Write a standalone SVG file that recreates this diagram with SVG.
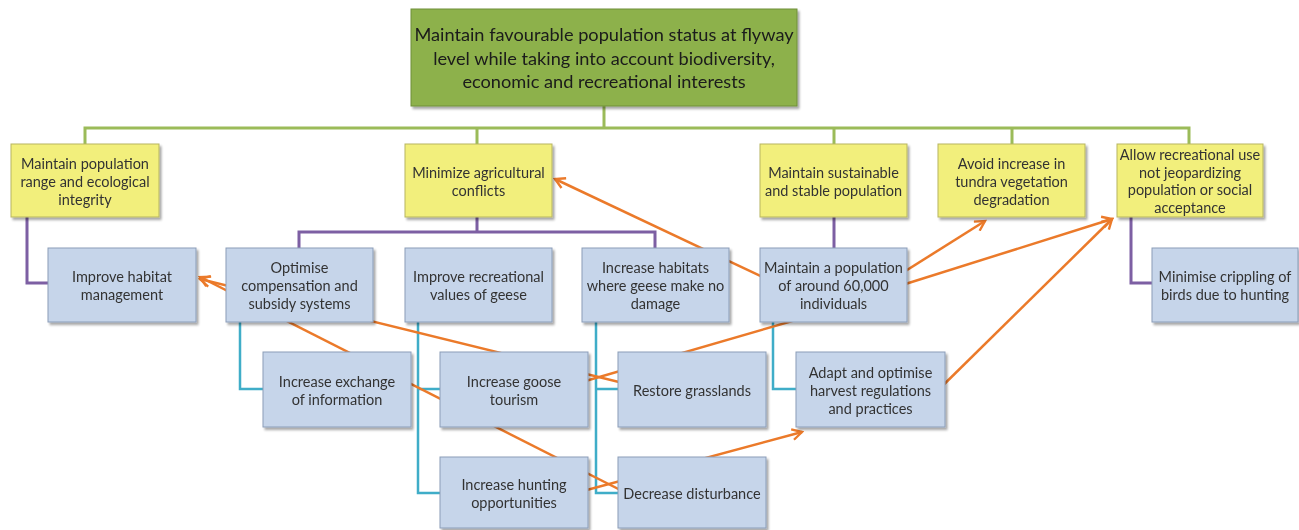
<svg xmlns="http://www.w3.org/2000/svg" width="1299" height="530" viewBox="0 0 1299 530">
<style>
.t{font-family:Lato,"Liberation Sans",sans-serif;font-size:14.5px;fill:#333;text-anchor:middle;dominant-baseline:central}
.tt{font-family:Lato,"Liberation Sans",sans-serif;font-size:18.2px;fill:#1a1a1a;text-anchor:middle;dominant-baseline:central}
.g{fill:#8DB14C;stroke:#6F8F3A;stroke-width:1}
.y{fill:#F2EF7C;stroke:#B7B560;stroke-width:1}
.b{fill:#C6D5EA;stroke:#8B9DB8;stroke-width:1}
.cg{fill:none;stroke:#9BBB59;stroke-width:3}
.cp{fill:none;stroke:#7D5FA3;stroke-width:3}
.ct{fill:none;stroke:#3FADC8;stroke-width:2.5}
.co{fill:none;stroke:#EB7A2A;stroke-width:2.5;marker-end:url(#ah)}
.cn{fill:none;stroke:#EB7A2A;stroke-width:2.5}
</style>
<defs>
<filter id="sh" x="-10%" y="-10%" width="130%" height="140%"><feDropShadow dx="2" dy="2.5" stdDeviation="1.2" flood-color="#000" flood-opacity="0.35"/></filter>
<marker id="ah" viewBox="0 0 12 12" refX="10" refY="6" markerWidth="13" markerHeight="13" markerUnits="userSpaceOnUse" orient="auto"><path d="M1,1 L10,6 L1,11" fill="none" stroke="#EB7A2A" stroke-width="2.2"/></marker>
</defs>
<rect width="1299" height="530" fill="#fff"/>
<g id="connectors">
<path class="cg" d="M604,106 V128 M85,144 V128 H1189 V144 M477,128 V144 M834,128 V144 M1012,128 V144"/>
<path class="cp" d="M27,217 V283 H48"/>
<path class="cp" d="M477,217 V232 M299,248 V232 H655 V248"/>
<path class="cp" d="M834,217 V248"/>
<path class="cp" d="M1131,217 V283 H1153"/>
<path class="ct" d="M240,322 V389 H263"/>
<path class="ct" d="M418,322 V493 H440 M418,389 H440"/>
<path class="ct" d="M596,322 V493 H618 M596,389 H618"/>
<path class="ct" d="M773,322 V389 H796"/>
<path class="co" d="M790,290 L555,179"/>
<path class="co" d="M650,505 L200,277"/>
<path class="co" d="M680,397 L200,279"/>
<path class="cn" d="M520,400 L820,313"/>
<path class="co" d="M520,508 L802,432"/>
<path class="co" d="M880,287 L985,221"/>
<path class="co" d="M880,292 L1112,219"/>
<path class="co" d="M920,408 L1112,219"/>
</g>
<g id="goal" filter="url(#sh)"><rect class="g" x="411" y="9" width="386" height="97"/>
<text class="tt"><tspan x="604" y="34">Maintain favourable population status at flyway</tspan><tspan x="604" y="57.5">level while taking into account biodiversity,</tspan><tspan x="604" y="81">economic and recreational interests</tspan></text></g>
<g id="obj1" filter="url(#sh)"><rect class="y" x="11" y="144" width="148" height="73"/>
<text class="t"><tspan x="85" y="162.5">Maintain population</tspan><tspan x="85" y="180.5">range and ecological</tspan><tspan x="85" y="198.5">integrity</tspan></text></g>
<g id="obj2" filter="url(#sh)"><rect class="y" x="405" y="144" width="147" height="73"/>
<text class="t"><tspan x="478.5" y="171.5">Minimize agricultural</tspan><tspan x="478.5" y="189.5">conflicts</tspan></text></g>
<g id="obj3" filter="url(#sh)"><rect class="y" x="760" y="144" width="147" height="73"/>
<text class="t"><tspan x="833.5" y="171.5">Maintain sustainable</tspan><tspan x="833.5" y="189.5">and stable population</tspan></text></g>
<g id="obj4" filter="url(#sh)"><rect class="y" x="938" y="144" width="147" height="73"/>
<text class="t"><tspan x="1011.5" y="162.5">Avoid increase in</tspan><tspan x="1011.5" y="180.5">tundra vegetation</tspan><tspan x="1011.5" y="198.5">degradation</tspan></text></g>
<g id="obj5" filter="url(#sh)"><rect class="y" x="1117" y="144" width="146" height="73"/>
<text class="t"><tspan x="1190" y="154.25">Allow recreational use</tspan><tspan x="1190" y="171.75">not jeopardizing</tspan><tspan x="1190" y="189.25">population or social</tspan><tspan x="1190" y="206.75">acceptance</tspan></text></g>
<g id="habitat" filter="url(#sh)"><rect class="b" x="48" y="248" width="148" height="74"/>
<text class="t"><tspan x="122" y="276">Improve habitat</tspan><tspan x="122" y="294">management</tspan></text></g>
<g id="optimise" filter="url(#sh)"><rect class="b" x="226" y="248" width="147" height="74"/>
<text class="t"><tspan x="299.5" y="267">Optimise</tspan><tspan x="299.5" y="285">compensation and</tspan><tspan x="299.5" y="303">subsidy systems</tspan></text></g>
<g id="recreational" filter="url(#sh)"><rect class="b" x="405" y="248" width="147" height="74"/>
<text class="t"><tspan x="478.5" y="276">Improve recreational</tspan><tspan x="478.5" y="294">values of geese</tspan></text></g>
<g id="habitats" filter="url(#sh)"><rect class="b" x="582" y="248" width="147" height="74"/>
<text class="t"><tspan x="655.5" y="267">Increase habitats</tspan><tspan x="655.5" y="285">where geese make no</tspan><tspan x="655.5" y="303">damage</tspan></text></g>
<g id="population" filter="url(#sh)"><rect class="b" x="760" y="248" width="147" height="74"/>
<text class="t"><tspan x="833.5" y="267">Maintain a population</tspan><tspan x="833.5" y="285">of around 60,000</tspan><tspan x="833.5" y="303">individuals</tspan></text></g>
<g id="crippling" filter="url(#sh)"><rect class="b" x="1152" y="248" width="146" height="74"/>
<text class="t"><tspan x="1225" y="276">Minimise crippling of</tspan><tspan x="1225" y="294">birds due to hunting</tspan></text></g>
<g id="exchange" filter="url(#sh)"><rect class="b" x="263" y="352" width="148" height="75"/>
<text class="t"><tspan x="337" y="380.5">Increase exchange</tspan><tspan x="337" y="398.5">of information</tspan></text></g>
<g id="tourism" filter="url(#sh)"><rect class="b" x="440" y="352" width="148" height="75"/>
<text class="t"><tspan x="514" y="380.5">Increase goose</tspan><tspan x="514" y="398.5">tourism</tspan></text></g>
<g id="grasslands" filter="url(#sh)"><rect class="b" x="618" y="352" width="148" height="75"/>
<text class="t"><tspan x="692" y="389.5">Restore grasslands</tspan></text></g>
<g id="harvest" filter="url(#sh)"><rect class="b" x="796" y="352" width="149" height="75"/>
<text class="t"><tspan x="870.5" y="371.5">Adapt and optimise</tspan><tspan x="870.5" y="389.5">harvest regulations</tspan><tspan x="870.5" y="407.5">and practices</tspan></text></g>
<g id="hunting" filter="url(#sh)"><rect class="b" x="440" y="457" width="148" height="71"/>
<text class="t"><tspan x="514" y="483.5">Increase hunting</tspan><tspan x="514" y="501.5">opportunities</tspan></text></g>
<g id="disturbance" filter="url(#sh)"><rect class="b" x="618" y="457" width="148" height="71"/>
<text class="t"><tspan x="692" y="492.5">Decrease disturbance</tspan></text></g>
</svg>
